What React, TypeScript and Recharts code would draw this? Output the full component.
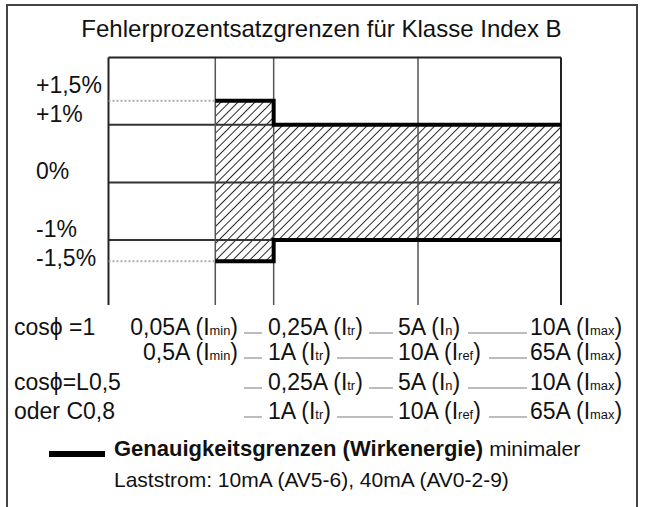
import React from 'react';
import { ComposedChart, Area, Line, XAxis, YAxis, ReferenceLine } from 'recharts';

// positions along the current axis (0..100) of I_min, I_tr, I_n/I_ref, I_max
const gridX = [0, 23.6, 36.5, 68.4, 100];
const gridY = [1, 0, -1];
const yTicks = [1.5, 1, 0, -1, -1.5];
const yTickLabels = ['+1,5%', '+1%', '0%', '-1%', '-1,5%'];
const yDomain = [-2.13, 2.17];

// accuracy limits (step at I_tr)
const limitX = [23.6, 36.5, 100];
const upperLimit = [1.42, 1, 1];
const lowerLimit = [-1.37, -1, -1];

// dotted lead-in below I_min
const startX = [0, 23.6];
const startUpper = [1.42, 1.42];
const startLower = [-1.37, -1.37];

// current table under the chart
const rowLabels = ['cosϕ =1', '', 'cosϕ=L0,5', 'oder C0,8'];
const minCurrent = ['0,05A', '0,5A', '', ''];
const trCurrent = ['0,25A', '1A', '0,25A', '1A'];
const midCurrent = ['5A', '10A', '5A', '10A'];
const midIndex = ['n', 'ref', 'n', 'ref'];
const maxCurrent = ['10A', '65A', '10A', '65A'];

const xs = Array.from(new Set([...startX, ...limitX])).sort((a, b) => a - b);
const data = xs.map((x) => {
  const i = limitX.indexOf(x);
  const j = startX.indexOf(x);
  return {
    x,
    upper: i >= 0 ? upperLimit[i] : null,
    lower: i >= 0 ? lowerLimit[i] : null,
    band: i >= 0 ? [lowerLimit[i], upperLimit[i]] : null,
    dotUpper: j >= 0 ? startUpper[j] : null,
    dotLower: j >= 0 ? startLower[j] : null,
  };
});

const FONT = "'Liberation Sans', Arial, Helvetica, sans-serif";
const ROW_BASELINES = [335, 360, 390, 419];
const FS = 23;

// top of a line box so that its baseline lands on y
const topFor = (baseline: number, fs: number) => baseline - fs * 0.8465;

const PercentTick = (props: any) => {
  const { y, payload } = props;
  const label = yTickLabels[yTicks.indexOf(payload.value)];
  return (
    <text x={36} y={y - 3} fontSize={FS} fontFamily={FONT} fill="#111">
      {label}
    </text>
  );
};

const Cell: React.FC<{ value: string; sub: string }> = ({ value, sub }) => (
  <span style={{ whiteSpace: 'nowrap' }}>
    {value} (I
    <span style={{ fontSize: '0.56em', position: 'relative', top: '0.06em' }}>{sub}</span>)
  </span>
);

const Dash: React.FC<{ ml: number; mr: number }> = ({ ml, mr }) => (
  <span
    style={{
      display: 'inline-block',
      flex: 1,
      height: 2,
      background: '#bdbdbd',
      marginLeft: ml,
      marginRight: mr,
      position: 'relative',
      top: -1,
    }}
  />
);

export default function App() {
  const lineBox = { fontSize: FS, lineHeight: `${FS}px`, fontFamily: FONT, color: '#111' };
  return (
    <div
      style={{
        position: 'absolute',
        left: 0,
        top: 0,
        width: 645,
        height: 507,
        background: '#fff',
        overflow: 'hidden',
      }}
    >
      <div
        style={{
          position: 'absolute',
          left: 6,
          top: 4,
          width: 628,
          height: 560,
          border: '2px solid #444',
        }}
      />
      <div
        style={{
          position: 'absolute',
          left: 0,
          width: 643,
          top: topFor(37, 24),
          textAlign: 'center',
          fontSize: 24,
          lineHeight: '24px',
          fontFamily: FONT,
          color: '#111',
        }}
      >
        Fehlerprozentsatzgrenzen für Klasse Index B
      </div>

      <div style={{ position: 'absolute', left: 0, top: 0 }}>
        <ComposedChart
          width={645}
          height={507}
          data={data}
          margin={{ top: 57.5, right: 84, bottom: 202, left: 0 }}
        >
          <defs>
            <pattern
              id="hatch"
              patternUnits="userSpaceOnUse"
              width={6}
              height={6}
              patternTransform="rotate(45)"
            >
              <line x1={0} y1={0} x2={0} y2={6} stroke="#111" strokeWidth={1.8} />
            </pattern>
          </defs>
          <XAxis type="number" dataKey="x" domain={[0, 100]} hide allowDataOverflow />
          <YAxis
            type="number"
            domain={yDomain}
            ticks={yTicks}
            interval={0}
            allowDataOverflow
            width={108.5}
            axisLine={false}
            tickLine={false}
            tick={<PercentTick />}
          />
          {gridY.map((v) => (
            <ReferenceLine key={`h${v}`} y={v} stroke="#333" strokeWidth={2} />
          ))}
          {gridX.map((v, i) => (
            <ReferenceLine
              key={`v${v}`}
              x={v}
              stroke={i === 0 || i === gridX.length - 1 ? '#222' : '#555'}
              strokeWidth={i === 0 || i === gridX.length - 1 ? 2 : 1.5}
            />
          ))}
          <ReferenceLine y={yDomain[1]} stroke="#222" strokeWidth={2} />
          <Area
            dataKey="band"
            type="stepAfter"
            fill="url(#hatch)"
            fillOpacity={1}
            stroke="none"
            isAnimationActive={false}
          />
          <Line
            dataKey="dotUpper"
            type="linear"
            stroke="#aaa"
            strokeWidth={2}
            strokeDasharray="2 2"
            dot={false}
            isAnimationActive={false}
          />
          <Line
            dataKey="dotLower"
            type="linear"
            stroke="#aaa"
            strokeWidth={2}
            strokeDasharray="2 2"
            dot={false}
            isAnimationActive={false}
          />
          <Line
            dataKey="upper"
            type="stepAfter"
            stroke="#000"
            strokeWidth={4}
            dot={false}
            isAnimationActive={false}
          />
          <Line
            dataKey="lower"
            type="stepAfter"
            stroke="#000"
            strokeWidth={4}
            dot={false}
            isAnimationActive={false}
          />
        </ComposedChart>
      </div>

      {ROW_BASELINES.map((b, r) => {
        const top = topFor(b, FS);
        return (
          <React.Fragment key={r}>
            {rowLabels[r] && (
              <div style={{ ...lineBox, position: 'absolute', left: 14, top, whiteSpace: 'nowrap' }}>
                {rowLabels[r]}
              </div>
            )}
            {minCurrent[r] && (
              <div style={{ ...lineBox, position: 'absolute', right: 645 - 238, top }}>
                <Cell value={minCurrent[r]} sub="min" />
              </div>
            )}
            <div
              style={{ position: 'absolute', left: 244, width: 18, top: b - 3, height: 2, background: '#bdbdbd' }}
            />
            <div
              style={{ ...lineBox, position: 'absolute', left: 268, width: 130, top, display: 'flex', alignItems: 'baseline' }}
            >
              <Cell value={trCurrent[r]} sub="tr" />
              <Dash ml={6} mr={5} />
            </div>
            <div
              style={{ ...lineBox, position: 'absolute', left: 398, width: 132, top, display: 'flex', alignItems: 'baseline' }}
            >
              <Cell value={midCurrent[r]} sub={midIndex[r]} />
              <Dash ml={8} mr={3} />
            </div>
            <div style={{ ...lineBox, position: 'absolute', left: 530, top, whiteSpace: 'nowrap' }}>
              <Cell value={maxCurrent[r]} sub="max" />
            </div>
          </React.Fragment>
        );
      })}

      <div style={{ position: 'absolute', left: 49, top: 450.5, width: 56, height: 6, background: '#000' }} />
      <div
        style={{ position: 'absolute', left: 114, top: topFor(457, 22), fontSize: 22, lineHeight: '22px', fontFamily: FONT, color: '#111', whiteSpace: 'nowrap' }}
      >
        <b>Genauigkeitsgrenzen (Wirkenergie)</b> <span style={{ fontSize: 21 }}>minimaler</span>
      </div>
      <div
        style={{ position: 'absolute', left: 114, top: topFor(487, 21), fontSize: 21, lineHeight: '21px', fontFamily: FONT, color: '#111', whiteSpace: 'nowrap' }}
      >
        Laststrom: 10mA (AV5-6), 40mA (AV0-2-9)
      </div>
    </div>
  );
}
